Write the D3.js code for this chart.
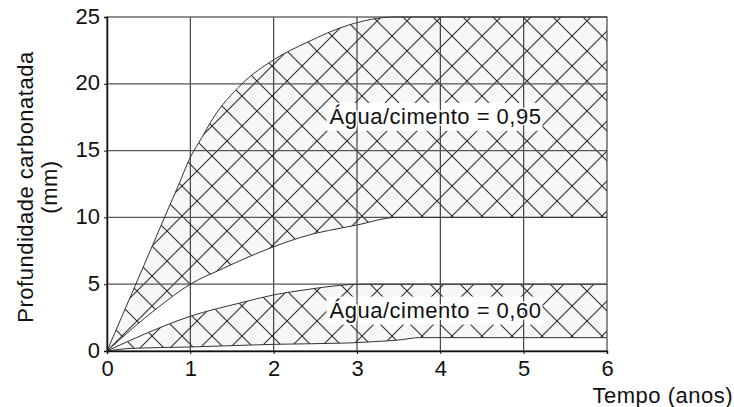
<!DOCTYPE html>
<html>
<head>
<meta charset="utf-8">
<script src="https://cdn.jsdelivr.net/npm/d3@7"></script>
<style>
  html, body { margin: 0; padding: 0; background: #fff; }
  svg { display: block; font-family: "Liberation Sans", Arial, sans-serif; }
</style>
</head>
<body>
<svg id="chart" width="734" height="407"></svg>
<script>
// Axis ticks
const xTicks = [0, 1, 2, 3, 4, 5, 6];
const yTicks = [0, 5, 10, 15, 20, 25];

// Envelope of carbonation depth (mm) vs. time (years), water/cement = 0.95
const upper095 = [[0, 0], [0.47, 6.8], [0.69, 10], [0.85, 12.3], [1.0, 14.5], [1.14, 16], [1.26, 17.3], [1.62, 20], [2.0, 21.8], [2.4, 23.1], [2.9, 24.4], [3.45, 25], [6, 25]];
const lower095 = [[0, 0], [0.6, 3.2], [1.0, 5], [1.4, 6.2], [1.72, 7.1], [2.0, 7.8], [2.32, 8.5], [3.0, 9.43], [3.48, 10], [6, 10]];

// Envelope for water/cement = 0.60
const upper060 = [[0, 0], [0.5, 1.4], [1.0, 2.6], [1.6, 3.6], [2.0, 4.2], [2.4, 4.6], [2.7, 4.85], [3.05, 5], [6, 5]];
const lower060 = [[0, 0], [0.3, 0.2], [1.0, 0.3], [2.0, 0.5], [2.9, 0.6], [3.2, 0.7], [3.5, 0.82], [3.75, 1], [6, 1]];

const bandLabels = ["Água/cimento = 0,95", "Água/cimento = 0,60"];
const labelPos = [[2.67, 17], [2.67, 2.5]];   // [x, y] in data units (text start, baseline)

const svg = d3.select("#chart");
const margin = { left: 107, right: 127, top: 17, bottom: 56 };
const W = 734, H = 407;
const FONT = 22;

const x = d3.scaleLinear().domain([0, 6]).range([margin.left, W - margin.right]);
const y = d3.scaleLinear().domain([0, 25]).range([H - margin.bottom, margin.top]);

// Cross-hatch fill
const defs = svg.append("defs");
const pat = defs.append("pattern")
  .attr("id", "xhatch")
  .attr("patternUnits", "userSpaceOnUse")
  .attr("width", 30).attr("height", 30)
  .attr("x", x(0)).attr("y", y(0));
pat.append("rect").attr("width", 30).attr("height", 30).attr("fill", "#f7f7f7");
pat.append("path")
  .attr("d", "M-3,-3L33,33M33,-3L-3,33")
  .attr("stroke", "#2e2e2e").attr("stroke-width", 1.1).attr("fill", "none");

const line = d3.line().x(d => x(d[0])).y(d => y(d[1])).curve(d3.curveMonotoneX);

function bandPath(up, lo) {
  const top = line(up);
  const bottom = line(lo.slice().reverse()).replace(/^M/, "L");
  return top + bottom + "Z";
}

const bands = [[upper095, lower095], [upper060, lower060]];
svg.append("g").selectAll("path").data(bands).join("path")
  .attr("d", d => bandPath(d[0], d[1]))
  .attr("fill", "url(#xhatch)")
  .attr("stroke", "none");

// White plates behind the band labels
const plates = svg.append("g");
const probe = svg.append("g");
probe.selectAll("text").data(bandLabels).join("text")
  .attr("x", (d, i) => x(labelPos[i][0]))
  .attr("y", (d, i) => y(labelPos[i][1]))
  .attr("font-size", FONT).attr("letter-spacing", 0.5)
  .text(d => d)
  .each(function () {
    const b = this.getBBox();
    plates.append("rect")
      .attr("x", b.x - 3).attr("y", b.y - 1)
      .attr("width", b.width + 4).attr("height", b.height + 3)
      .attr("fill", "#fff");
  });
probe.remove();

// Grid
const grid = svg.append("g");
grid.selectAll("line.v").data(xTicks.slice(1, -1)).join("line")
  .attr("x1", d => x(d)).attr("x2", d => x(d))
  .attr("y1", y(0)).attr("y2", y(25))
  .attr("stroke", "#333").attr("stroke-width", 1.1);
grid.selectAll("line.h").data(yTicks.slice(1, -1)).join("line")
  .attr("x1", x(0)).attr("x2", x(6))
  .attr("y1", d => y(d)).attr("y2", d => y(d))
  .attr("stroke", "#555").attr("stroke-width", 1.2);

// Frame
svg.append("rect")
  .attr("x", x(0)).attr("y", y(25))
  .attr("width", x(6) - x(0)).attr("height", y(0) - y(25))
  .attr("fill", "none").attr("stroke", "#444").attr("stroke-width", 1.2);

// Band outlines
const outlines = [upper095, lower095, upper060, lower060];
svg.append("g").selectAll("path").data(outlines).join("path")
  .attr("d", d => line(d))
  .attr("fill", "none").attr("stroke", "#333").attr("stroke-width", 1);

// Labels
svg.append("g").selectAll("text").data(bandLabels).join("text")
  .attr("x", (d, i) => x(labelPos[i][0]))
  .attr("y", (d, i) => y(labelPos[i][1]))
  .attr("font-size", FONT).attr("letter-spacing", 0.5)
  .attr("fill", "#111")
  .attr("stroke", "#fff").attr("stroke-width", 3).attr("paint-order", "stroke")
  .text(d => d);

// Axes
const xAxis = svg.append("g")
  .attr("transform", `translate(0,${y(0)})`)
  .call(d3.axisBottom(x).tickValues(xTicks).tickSize(3).tickPadding(6).tickFormat(d3.format("d")));
const yAxis = svg.append("g")
  .attr("transform", `translate(${x(0)},0)`)
  .call(d3.axisLeft(y).tickValues(yTicks).tickSize(3).tickPadding(4).tickFormat(d3.format("d")));
[xAxis, yAxis].forEach(g => {
  g.select(".domain").attr("stroke", "#111").attr("stroke-width", 1.5);
  g.selectAll(".tick line").attr("stroke", "#111");
  g.selectAll(".tick text").attr("font-size", FONT).attr("fill", "#111")
    .attr("font-family", "Liberation Sans, Arial, sans-serif");
});
yAxis.selectAll(".tick text").attr("dy", "0.28em");

// Axis titles
svg.append("text")
  .attr("x", W - 1).attr("y", 403)
  .attr("text-anchor", "end").attr("font-size", FONT).attr("letter-spacing", 0.5).attr("fill", "#111")
  .text("Tempo (anos)");

const yTitle = svg.append("text")
  .attr("transform", "translate(33,187) rotate(-90)")
  .attr("text-anchor", "middle").attr("font-size", FONT).attr("letter-spacing", 0.5).attr("fill", "#111");
yTitle.append("tspan").attr("x", 0).attr("y", 0).text("Profundidade carbonatada");
yTitle.append("tspan").attr("x", 0).attr("y", 24).text("(mm)");
</script>
</body>
</html>
